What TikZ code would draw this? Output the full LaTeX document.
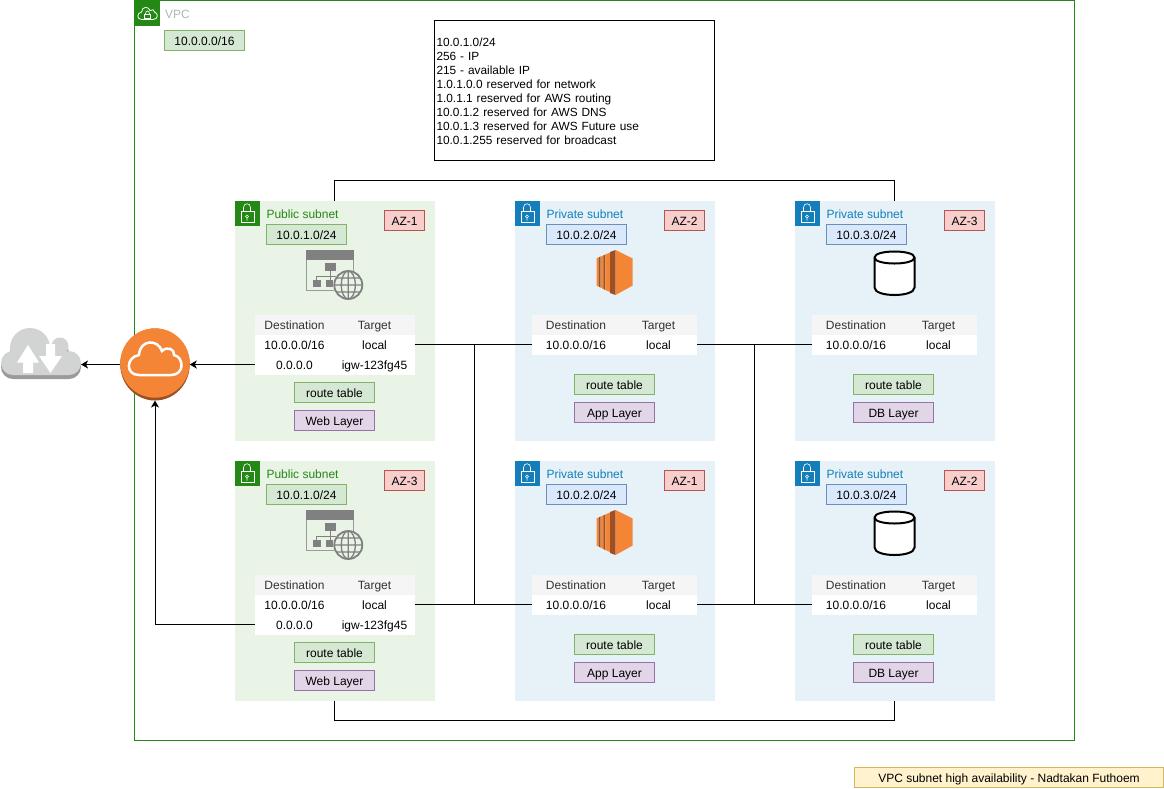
\documentclass[tikz,border=0pt]{standalone}
\usepackage{fontspec}
\setmainfont{Liberation Sans}
\usetikzlibrary{arrows.meta, shapes.geometric}

\definecolor{awsgreen}{HTML}{248814}
\definecolor{awsblue}{HTML}{147EBA}
\definecolor{publicbg}{HTML}{E9F3E6}
\definecolor{privatebg}{HTML}{E6F2F8}
\definecolor{awsorange}{HTML}{F58536}
\definecolor{awsbrown}{HTML}{9D5025}
\definecolor{icongrey}{HTML}{808080}
\definecolor{cloudgrey}{HTML}{D2D3D3}
\definecolor{cloudshadow}{HTML}{9B9B9B}
\definecolor{vpcgrey}{HTML}{AAB7B8}
\definecolor{headgrey}{HTML}{F5F5F5}
\definecolor{headtext}{HTML}{333333}
\definecolor{greenline}{HTML}{82B366}
\definecolor{greenfill}{HTML}{D5E8D4}
\definecolor{blueline}{HTML}{6C8EBF}
\definecolor{bluefill}{HTML}{DAE8FC}
\definecolor{purpleline}{HTML}{9673A6}
\definecolor{purplefill}{HTML}{E1D5E7}
\definecolor{redline}{HTML}{B85450}
\definecolor{redfill}{HTML}{F8CECC}
\definecolor{yellowline}{HTML}{D6B656}
\definecolor{yellowfill}{HTML}{FFF2CC}

\tikzset{
	every node/.style = {font = \fontsize{12}{14}\selectfont, inner sep = 0pt, outer sep = 0pt},
	label text/.style = {text height = 11pt, text depth = 2pt},
	tagbox/.style 2 args = {draw = #1, fill = #2, minimum height = 20pt, label text},
	greentag/.style = {tagbox = {greenline}{greenfill}, minimum width = 80pt},
	bluetag/.style = {tagbox = {blueline}{bluefill}, minimum width = 80pt},
	purpletag/.style = {tagbox = {purpleline}{purplefill}, minimum width = 80pt},
	redtag/.style = {tagbox = {redline}{redfill}, minimum width = 40pt},
	panel/.style = {anchor = north west, minimum width = 200pt, minimum height = 240pt},
	headrow/.style = {fill = headgrey, minimum height = 20pt},
	bodyrow/.style = {fill = white, minimum height = 20pt},
	link/.style = {draw = black},
	linkarrow/.style = {draw = black, -{Stealth[length = 7pt, width = 8pt, inset = 2pt]}},
}

% Outline of the gateway cloud, also used small on the VPC corner
\def\cloudline{(139, 375) -- (171, 375) .. controls (185, 375) and (184, 357) .. (174, 355) .. controls (175, 349) and (167, 346) .. (162, 351) .. controls (158, 339) and (140, 339) .. (139, 355) .. controls (126, 357) and (125, 375) .. (139, 375) -- cycle}

% Padlock on the corner of a panel
\newcommand{\lockmark}{
	\draw [white, line width = 0.6pt] (6.5, 11) rectangle (19.5, 22);
	\draw [white, line width = 0.6pt] (9, 11) -- (9, 7) .. controls (9, 2) and (16, 2) .. (16, 7) -- (16, 11);
	\draw [white, line width = 0.6pt] (12.5, 16) circle (1.5pt) (12.5, 17.5) -- (12.5, 20);
}

% Load balancer icon
\newcommand{\webicon}{
	\draw [icongrey!80, line width = 1pt] (118.5, 59) -- (118.5, 90) -- (72, 90) -- (72, 59);
	\fill [icongrey] (71.5, 49.5) rectangle (119, 59);
	\fill [icongrey] (90, 62.5) rectangle (101.5, 70.5);
	\fill [icongrey] (78, 79.5) rectangle (86.5, 86);
	\fill [icongrey] (91.5, 79.5) rectangle (98, 86);
	\draw [icongrey] (95.5, 70.5) -- (95.5, 79.5) (82, 79.5) -- (82, 75.5) -- (105, 75.5);
	\begin{scope}[shift = {(113.8, 84.5)}]
		\fill [publicbg] (0, 0) circle (15pt);
		\clip (0, 0) circle (14pt);
		\draw [icongrey, line width = 1.3pt] (0, 0) ellipse (7pt and 14pt) (0, -14) -- (0, 14) (-14, 0) -- (14, 0) (-14, -7) -- (14, -7) (-14, 7) -- (14, 7);
	\end{scope}
	\draw [icongrey, line width = 1.8pt] (113.8, 84.5) circle (14pt);
}

% Server icon
\newcommand{\servericon}{
	\fill [awsorange] (82.2, 57.8) -- (84.2, 57) -- (84.2, 86) -- (82.2, 85.2) -- cycle;
	\fill [awsbrown] (84.2, 57) -- (86.2, 56) -- (86.2, 87) -- (84.2, 86) -- cycle;
	\fill [awsorange] (86.2, 56) -- (88.8, 55) -- (88.8, 88.5) -- (86.2, 87) -- cycle;
	\fill [awsbrown] (88.8, 55) -- (90.8, 54) -- (90.8, 89.5) -- (88.8, 88.5) -- cycle;
	\fill [awsorange] (90.8, 54) -- (95.5, 52) -- (95.5, 91.5) -- (90.8, 89.5) -- cycle;
	\fill [awsbrown] (95.5, 51.5) -- (101, 49.5) -- (101, 94.5) -- (95.5, 92.5) -- cycle;
	\fill [awsorange] (101, 49.5) -- (118.2, 58) -- (118.2, 85) -- (101, 94.5) -- cycle;
}

% Database icon
\newcommand{\dbicon}{
	\draw [line width = 2pt, fill = white] (80, 57) .. controls (80, 49) and (120, 49) .. (120, 57) -- (120, 87) .. controls (120, 97) and (80, 97) .. (80, 87) -- cycle;
	\draw [line width = 2pt] (80, 57) .. controls (80, 65) and (120, 65) .. (120, 57);
}

% One table row, with the cell texts in two columns
\newcommand{\routerow}[5]{
	\node [#3, minimum width = \tablewidth] (#1) at (100, #2) {};
	\node [label text] (#1-dest) at (\colA, #2) {#4};
	\node [label text] (#1-target) at (\colB, #2) {#5};
}

\begin{document}
\begin{tikzpicture}[x = 1pt, y = -1pt, line width = 1pt]

	\useasboundingbox (0, 0) rectangle (1164, 788);

	% VPC frame

	\node [draw = awsgreen, anchor = north west, minimum width = 940pt, minimum height = 740pt] (vpc) at (134.5, 0.5) {};
	\fill [awsgreen] (134.5, 0.5) rectangle (159.5, 25.5);
	\begin{scope}[shift = {(147.5, 13.5)}, scale = 0.37, shift = {(-155, -359)}]
		\draw [white, line width = 0.8pt] \cloudline;
	\end{scope}
	\draw [white, line width = 0.7pt] (144.5, 14) rectangle (150.5, 18);
	\draw [white, line width = 0.7pt] (145.5, 14) .. controls (145.5, 10) and (149.5, 10) .. (149.5, 14);
	\node [label text, anchor = west, text = vpcgrey] (vpclabel) at (165, 13.5) {VPC};
	\node [greentag] (vpccidr) at (204.5, 40.5) {10.0.0.0/16};

	% Address notes

	\node [draw, minimum width = 280pt, minimum height = 140pt, text width = 276pt, align = left, font = \fontsize{11.85}{14}\selectfont] (note) at (574.5, 90.5) {
		\rule{0pt}{11pt}10.0.1.0/24\\
		256 - IP\\
		215 - available IP\\
		1.0.1.0.0 reserved for network\\
		1.0.1.1 reserved for AWS routing\\
		10.0.1.2 reserved for AWS DNS\\
		10.0.1.3 reserved for AWS Future use\\
		10.0.1.255 reserved for broadcast};

	% Public subnets

	\def\tablewidth{160pt}
	\def\colA{60}
	\def\colB{140}
	\foreach \pid/\X/\Y/\az in {webA/234.5/200.5/AZ-1, webB/234.5/460.5/AZ-3} {
		\begin{scope}[shift = {(\X, \Y)}]
			\node [panel, fill = publicbg] (\pid) at (0, 0) {};
			\fill [awsgreen] (0, 0) rectangle (25, 25);
			\lockmark
			\node [label text, anchor = west, text = awsgreen] (\pid-title) at (32, 13) {Public subnet};
			\node [greentag] (\pid-cidr) at (72, 34) {10.0.1.0/24};
			\node [redtag] (\pid-az) at (170, 20) {\az};
			\webicon
			\routerow{\pid-head}{124}{headrow}{\textcolor{headtext}{Destination}}{\textcolor{headtext}{Target}}
			\routerow{\pid-local}{144}{bodyrow}{10.0.0.0/16}{local}
			\routerow{\pid-igw}{164}{bodyrow}{0.0.0.0}{igw-123fg45}
			\node [greentag] (\pid-route) at (100, 192) {route table};
			\node [purpletag] (\pid-layer) at (100, 220) {Web Layer};
		\end{scope}
	}

	% Private subnets

	\def\tablewidth{165pt}
	\def\colA{61.5}
	\def\colB{144}
	\foreach \pid/\X/\Y/\net/\az/\layer/\tagx/\iconname in {
		appA/514.5/200.5/2/AZ-2/App Layer/100/\servericon,
		appB/514.5/460.5/2/AZ-1/App Layer/100/\servericon,
		dbA/794.5/200.5/3/AZ-3/DB Layer/99/\dbicon,
		dbB/794.5/460.5/3/AZ-2/DB Layer/99/\dbicon} {
		\begin{scope}[shift = {(\X, \Y)}]
			\node [panel, fill = privatebg] (\pid) at (0, 0) {};
			\fill [awsblue] (0, 0) rectangle (25, 25);
			\lockmark
			\node [label text, anchor = west, text = awsblue] (\pid-title) at (32, 13) {Private subnet};
			\node [bluetag] (\pid-cidr) at (72, 34) {10.0.\net.0/24};
			\node [redtag] (\pid-az) at (170, 20) {\az};
			\iconname
			\routerow{\pid-head}{124}{headrow}{\textcolor{headtext}{Destination}}{\textcolor{headtext}{Target}}
			\routerow{\pid-local}{144}{bodyrow}{10.0.0.0/16}{local}
			\node [greentag] (\pid-route) at (\tagx, 184) {route table};
			\node [purpletag] (\pid-layer) at (\tagx, 212) {\layer};
		\end{scope}
	}

	% Internet cloud

	\node [minimum width = 80pt, minimum height = 52pt] (internet) at (41, 354) {};
	\foreach \dy/\shade in {4/cloudshadow, 0/cloudgrey} {
		\begin{scope}[yshift = -\dy pt]
			\fill [\shade] (13, 363) circle (12pt) (30, 348) circle (20pt) (60, 346) circle (8.5pt) (69, 363) circle (12pt) (13, 352) rectangle (69, 375);
		\end{scope}
	}
	\fill [white] (28, 345) -- (39, 362.5) -- (33, 362.5) -- (33, 373) -- (23, 373) -- (23, 362.5) -- (17, 362.5) -- cycle;
	\fill [white] (50.5, 373) -- (62, 356) -- (55, 356) -- (55, 344) -- (46, 344) -- (46, 356) -- (39, 356) -- cycle;

	% Internet gateway

	\node [ellipse, fill = awsbrown, minimum width = 69.5pt, minimum height = 72pt] (igw) at (155, 364.5) {};
	\fill [awsorange] (155, 363) circle (34.7pt);
	\draw [white, line width = 2.5pt] \cloudline;

	% Links between the tables

	\coordinate (busAtop) at (474.5, 344.5);
	\coordinate (busAbot) at (474.5, 604.5);
	\coordinate (busBtop) at (754.5, 344.5);
	\coordinate (busBbot) at (754.5, 604.5);
	\draw [link] (webA-local.east) -- (appA-local.west);
	\draw [link] (webB-local.east) -- (appB-local.west);
	\draw [link] (appA-local.east) -- (dbA-local.west);
	\draw [link] (appB-local.east) -- (dbB-local.west);
	\draw [link] (busAtop) -- (busAbot);
	\draw [link] (busBtop) -- (busBbot);

	% Links between the panels

	\draw [link] (webA.north) -- ++(0, -20) -| (dbA.north);
	\draw [link] (webB.south) -- ++(0, 20) -| (dbB.south);

	% Routes out to the internet

	\draw [linkarrow] (webA-igw.west) -- (igw.east);
	\draw [linkarrow] (webB-igw.west) -| (igw.south);
	\draw [linkarrow] (igw.west) -- (igw.west -| internet.east);

	% Caption

	\node [label text, draw = yellowline, fill = yellowfill, minimum width = 309pt, minimum height = 20pt] (caption) at (1009, 777.5) {VPC subnet high availability - Nadtakan Futhoem};

\end{tikzpicture}
\end{document}
